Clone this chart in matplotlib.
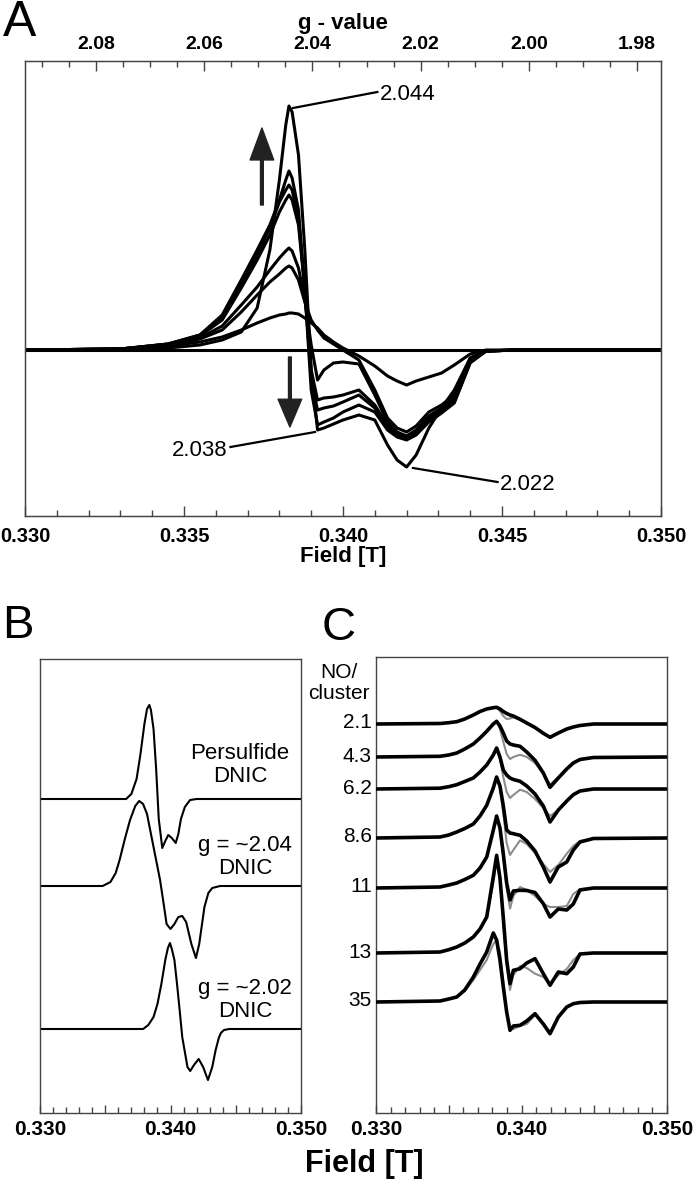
import numpy as np
import matplotlib
matplotlib.use("Agg")
import matplotlib.pyplot as plt
from matplotlib.ticker import MultipleLocator, FixedLocator, FuncFormatter

# ---------------- data ----------------
# panel A: field grid [T] and the titration spectra (arb. units, 0 = baseline)
fieldA = [0.3300, 0.3330, 0.3345, 0.3355, 0.3362, 0.3368, 0.3373, 0.3377, 0.3380, 0.3382,
          0.3383, 0.3384, 0.3386, 0.3388, 0.3390, 0.3392, 0.3394, 0.3397, 0.3400, 0.3405,
          0.3410, 0.3414, 0.3417, 0.3420, 0.3423, 0.3427, 0.3431, 0.3435, 0.3440, 0.3445,
          0.3455, 0.3500]
specA_0 = [0] * 32
specA_1 = [0, 1, 4, 8, 13, 20, 27, 32, 35, 36, 37, 37, 36, 32, 27, 22, 15, 8, 2, -6,
           -16, -26, -31, -35, -31, -27, -23, -15, -4, 0, 0, 0]
specA_2 = [0, 1, 5, 11, 20, 38, 55, 68, 76, 82, 84, 82, 70, 48, 30, 20, 12, 6, 0, -10,
           -40, -68, -78, -82, -76, -62, -55, -45, -8, -1, 0, 0]
specA_3 = [0, 1, 5, 12, 24, 45, 63, 80, 92, 99, 102, 99, 82, 50, 5, -30, -20, -13, -12, -14,
           -45, -72, -82, -86, -80, -66, -58, -48, -10, -1, 0, 0]
specA_4 = [0, 1, 6, 14, 30, 62, 90, 115, 138, 150, 155, 150, 125, 60, -20, -50, -48, -47, -45, -40,
           -55, -75, -84, -88, -82, -68, -60, -50, -12, -1, 0, 0]
specA_5 = [0, 1, 6, 15, 33, 66, 95, 122, 148, 160, 165, 160, 132, 60, -30, -60, -58, -56, -52, -45,
           -58, -78, -86, -87, -83, -70, -62, -52, -12, -1, 0, 0]
specA_6 = [0, 1, 6, 15, 35, 70, 100, 125, 150, 170, 179, 172, 140, 60, -40, -75, -72, -68, -62, -55,
           -62, -80, -87, -90, -85, -72, -63, -53, -13, -1, 0, 0]
specA_7 = [0, 0, 2, 5, 10, 18, 42, 100, 170, 225, 244, 238, 195, 100, -20, -80, -78, -74, -70, -65,
           -70, -95, -110, -117, -105, -78, -58, -40, -8, -1, 0, 0]

# g-value annotations in panel A: label, field of the feature, intensity there
ann_labels = ['2.044', '2.038', '2.022']
ann_field = [0.33843, 0.33912, 0.34220]
ann_int = [242, -82, -118]

# top axis (g-value) range that spans the field axis
g_left, g_right = 2.0931, 1.9756
g_ticks = [2.08, 2.06, 2.04, 2.02, 2.00, 1.98]

# panel B: simulated component spectra
persulf_field = [0.3300, 0.3366, 0.3370, 0.3374, 0.3377, 0.3380, 0.3382, 0.33838, 0.3385, 0.3387,
                 0.3389, 0.3391, 0.33937, 0.3396, 0.33983, 0.3401, 0.3404, 0.3406, 0.3408, 0.3411,
                 0.3415, 0.3420, 0.3500]
persulf_int = [0, 0, 5, 20, 45, 75, 90, 94, 89, 70, 30, -20, -49, -42, -36, -39, -44, -35, -20, -8,
               -1, 0, 0]
g204_field = [0.3300, 0.3348, 0.3354, 0.3358, 0.3361, 0.3365, 0.3369, 0.3373, 0.3376, 0.3379,
              0.3382, 0.3387, 0.3392, 0.3395, 0.3397, 0.3400, 0.3403, 0.3406, 0.3409, 0.3412,
              0.3416, 0.34195, 0.3422, 0.3426, 0.3429, 0.3432, 0.3438, 0.3500]
g204_int = [0, 0, 4, 13, 26, 47, 66, 80, 85, 82, 72, 39, 6, -20, -38, -43, -38, -31, -30, -36,
            -58, -72, -58, -21, -7, -2, 0, 0]
g202_field = [0.3300, 0.3379, 0.3383, 0.3387, 0.3390, 0.3393, 0.3396, 0.3398, 0.33996, 0.3401,
              0.3403, 0.3405, 0.3407, 0.3409, 0.3413, 0.34151, 0.3418, 0.34216, 0.3425, 0.34287,
              0.3432, 0.34346, 0.3437, 0.34386, 0.3441, 0.3445, 0.3500]
g202_int = [0, 0, 4, 12, 25, 45, 69, 81, 86, 80, 69, 45, 19, -8, -38, -42, -36, -30, -38, -51,
            -38, -21, -9, -4, -1, 0, 0]
comp_labels = ['Persulfide\nDNIC', 'g = ~2.04\nDNIC', 'g = ~2.02\nDNIC']

# panel C: experimental spectra (black) and fits (grey) at each NO/cluster ratio
fieldC = [0.3300, 0.3344, 0.3350, 0.33555, 0.3361, 0.33669, 0.33715, 0.33761, 0.33806, 0.33829,
          0.33852, 0.33875, 0.33898, 0.33921, 0.33944, 0.3399, 0.34036, 0.34093, 0.3415, 0.34196,
          0.34253, 0.34311, 0.34356, 0.34402, 0.34494, 0.3500]
ratios = ['2.1', '4.3', '6.2', '8.6', '11', '13', '35']
exp_21 = [0, 0.5, 1.3, 2.3, 5, 9, 12.5, 15, 16.3, 16.7, 15, 12.5, 10.5, 9, 8, 4.7, 1, -3.5, -9.3, -13.3, -9, -5, -3, -1.5, 0, 0]
exp_43 = [0, 0.7, 2, 4, 8, 13, 19, 25.7, 33, 35.7, 31, 24, 16, 13, 12, 10.7, 5, -3.3, -16, -30.3, -21, -12, -6, -2.5, -0.5, 0]
exp_62 = [0, 0.8, 2.3, 4.3, 7.5, 11, 17, 24, 34, 41, 32, 19, 14, 11, 9.5, 7.7, 3, -5, -17, -33, -21, -12, -5.7, -2, 0, 0]
exp_86 = [0, 1, 3, 6, 9.5, 14, 22, 32.7, 50, 61, 52, 32, 8, 5, 4.3, 2.7, -3, -13, -29, -44, -29, -24, -12, -4, -0.5, 0]
exp_11 = [0, 1, 3, 5, 8.5, 12.7, 20, 31, 57.7, 72, 60, 34, 5, -12, -3, -2.3, -2.5, -4.5, -15.7, -29, -21, -22, -16, -2, 0, 0]
exp_13 = [0, 1, 3.3, 6, 10, 16, 24, 36, 76, 97.7, 75, 35, -7.3, -30.7, -17.3, -15.7, -10, -5.7, -20.7, -32.3, -19, -20.7, -14, -1, 0, 0]
exp_35 = [0, 1, 3, 5, 12, 25, 38, 50, 69, 62, 42, 15, -10, -28.3, -24, -23.3, -19, -11.7, -22, -31.7, -15, -5, -1.7, -0.5, 0, 0]
fit_21 = [0, 0.5, 1.3, 2.3, 5, 9, 12.5, 15, 16.3, 16.7, 13, 8, 5, 5.5, 6.5, 4.5, 1, -3.5, -9.3, -13, -9, -5, -3, -1.5, 0, 0]
fit_43 = [0, 0.7, 2, 4, 8, 13, 19, 25.7, 33, 35.7, 28, 15, 3, -2, 0, 2.3, 0, -6, -17, -27.7, -20, -11, -5.5, -2, -0.5, 0]
fit_62 = [0, 0.8, 2.3, 4.3, 7.5, 11, 17, 24, 34, 41, 30, 12, -3, -9, -6, -0.7, -3, -10, -19, -27, -21, -13, -6, -2, 0, 0]
fit_86 = [0, 1, 3, 6, 9.5, 14, 22, 32.7, 50, 61, 50, 25, -5, -17, -12, -2.3, -6, -15, -26, -34, -27, -15.7, -8, -3, -0.5, 0]
fit_11 = [0, 1, 3, 5, 8.5, 12.7, 20, 31, 57.7, 72, 60, 30, 0, -20.7, -8, 1, -2, -8, -16, -19, -19, -18, -6, -1, 0, 0]
fit_13 = [0, 1, 3.3, 6, 10, 16, 24, 36, 70, 92, 75, 30, -12, -37, -22, -13, -15, -20.7, -24, -30.7, -22, -16, -7, -1, 0, 0]
fit_35 = [0, 1, 3, 5, 11, 22, 32, 42, 58, 62, 50, 20, -10, -25, -27, -24, -22, -13, -22, -30, -15, -5, -2, 0, 0, 0]

# ---------------- styling ----------------
BOLD = dict(family=['Liberation Sans', 'DejaVu Sans'], weight='bold')
TEXTFONT = dict(family=['Liberation Sans', 'DejaVu Sans'])
FRAME = '#444444'


def style_labels(ax, size):
	for lab in ax.get_xticklabels():
		lab.set_fontsize(size)
		lab.set_fontfamily(BOLD['family'])
		lab.set_fontweight('bold')


def field_axis(ax, labelled, size, major_len, minor_len, pad):
	ax.set_xlim(0.330, 0.350)
	ax.xaxis.set_major_locator(MultipleLocator(0.005))
	ax.xaxis.set_minor_locator(MultipleLocator(0.001))
	ax.xaxis.set_major_formatter(FuncFormatter(
		lambda v, p: ('%.3f' % v) if any(abs(v - l) < 1e-6 for l in labelled) else ''))
	ax.tick_params(axis='x', which='both', direction='in', color=FRAME, width=1, pad=pad)
	ax.tick_params(axis='x', which='major', length=major_len)
	ax.tick_params(axis='x', which='minor', length=minor_len)
	ax.set_yticks([])
	style_labels(ax, size)
	for sp in ax.spines.values():
		sp.set_color(FRAME)
		sp.set_linewidth(1)


fig = plt.figure(figsize=(6.93, 11.9), dpi=100)
W, H = 693.0, 1190.0

def axes_px(left, top, right, bottom):
	return fig.add_axes([left / W, 1 - bottom / H, (right - left) / W, (bottom - top) / H])

# ---------------- panel A ----------------
axA = axes_px(25, 61, 661, 516)
for spec in [specA_0, specA_1, specA_2, specA_3, specA_4, specA_5, specA_6, specA_7]:
	axA.plot(fieldA, spec, color='black', lw=2.2, solid_joinstyle='round')
axA.set_ylim(-166, 289)
field_axis(axA, [0.330, 0.335, 0.340, 0.345, 0.350], 14.5, 7, 4.5, 8)
axA.set_xlabel('Field [T]', fontsize=16, labelpad=0, **BOLD)

top = axA.twiny()
top.set_xlim(g_left, g_right)
top.xaxis.set_major_locator(FixedLocator(g_ticks))
top.xaxis.set_minor_locator(MultipleLocator(0.005))
top.xaxis.set_major_formatter(FuncFormatter(lambda v, p: '%.2f' % v))
top.tick_params(axis='x', which='both', direction='in', color=FRAME, width=1, pad=6)
top.tick_params(axis='x', which='major', length=7)
top.tick_params(axis='x', which='minor', length=4.5)
style_labels(top, 14)
top.set_xlabel('g - value', fontsize=16, labelpad=5, **BOLD)
for sp in top.spines.values():
	sp.set_color(FRAME)

# intensity arrows
axA.annotate('', xy=(0.33745, 222), xytext=(0.33745, 145),
	arrowprops=dict(facecolor='#222222', edgecolor='#222222', width=2, headwidth=17, headlength=23, shrink=0))
axA.annotate('', xy=(0.33833, -77), xytext=(0.33833, -7),
	arrowprops=dict(facecolor='#222222', edgecolor='#222222', width=2, headwidth=17, headlength=20, shrink=0))

# g-value leaders
label_pos = [(0.34116, 255, 'left'), (0.33638, -100, 'right'), (0.34494, -135, 'left')]
for lab, f, i, (tx, ty, ha) in zip(ann_labels, ann_field, ann_int, label_pos):
	ex = tx - 0.00008 if ha == 'left' else tx + 0.00008
	axA.plot([f, ex], [i, ty + 3], color='black', lw=1.6)
	axA.text(tx, ty, lab, ha=ha, va='center', fontsize=16, **TEXTFONT)

# ---------------- panel B ----------------
axB = axes_px(40, 659, 301, 1113)
offsB = [314, 227, 84]
compB = [(persulf_field, persulf_int), (g204_field, g204_int), (g202_field, g202_int)]
for (f, s), off in zip(compB, offsB):
	axB.plot(f, np.array(s) + off, color='black', lw=1.5)
axB.set_ylim(0, 454)
field_axis(axB, [0.330, 0.340, 0.350], 15, 6, 4, 5)
lab_posB = [(0.34533, 348), (0.34571, 256), (0.34571, 113)]
for lab, (x, y) in zip(comp_labels, lab_posB):
	axB.text(x, y, lab, ha='center', va='center', fontsize=16, linespacing=1.1, **TEXTFONT)

# ---------------- panel C ----------------
axC = axes_px(376, 657, 667, 1113)
offsC = [389, 356, 324, 275, 225, 160, 111]
exps = [exp_21, exp_43, exp_62, exp_86, exp_11, exp_13, exp_35]
fits = [fit_21, fit_43, fit_62, fit_86, fit_11, fit_13, fit_35]
for e, ft, off, r in zip(exps, fits, offsC, ratios):
	axC.plot(fieldC, np.array(ft) + off, color='#8c8c8c', lw=1.5, zorder=2)
	axC.plot(fieldC, np.array(e) + off, color='black', lw=2.6, zorder=3, solid_joinstyle='round')
	axC.text(-0.014, off + 1, r, transform=axC.get_yaxis_transform(), ha='right', va='center',
		fontsize=15, **TEXTFONT)
axC.text(-0.127, 430, 'NO/\ncluster', transform=axC.get_yaxis_transform(), ha='center', va='center',
	fontsize=15, linespacing=1.15, **TEXTFONT)
axC.set_ylim(0, 456)
field_axis(axC, [0.330, 0.340, 0.350], 15, 6, 4, 5)

# ---------------- figure texts ----------------
fig.text(3 / W, 1 - 0 / H, 'A', fontsize=36, va='top', ha='left', **TEXTFONT)
fig.text(2 / W, 1 - 604 / H, 'B', fontsize=34, va='top', ha='left', **TEXTFONT)
fig.text(322 / W, 1 - 606 / H, 'C', fontsize=34, va='top', ha='left', **TEXTFONT)
fig.text(364 / W, 1 - 1164 / H, 'Field [T]', fontsize=22, ha='center', va='center', **BOLD)

fig.savefig('out.png', dpi=100)
